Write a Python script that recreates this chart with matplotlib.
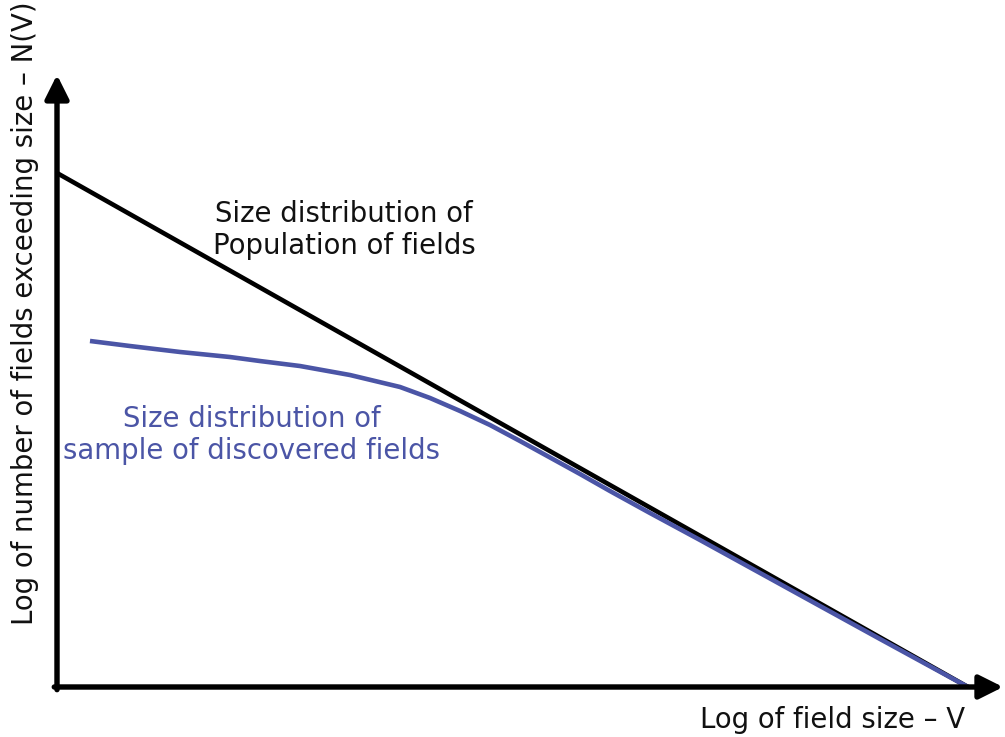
import matplotlib
matplotlib.use("Agg")
import matplotlib.pyplot as plt

# Data (conceptual log units)
population_x = [0.0, 10.0]
population_y = [10.0, 0.0]

discovered_x = [0.362, 0.801, 1.350, 1.899, 2.228, 2.667, 3.216, 3.765, 4.094,
                4.424, 4.753, 5.082, 5.412, 5.741, 6.070, 6.509, 7.058, 7.717,
                8.375, 9.034, 10.0]
discovered_y = [6.732, 6.634, 6.518, 6.420, 6.342, 6.245, 6.070, 5.837, 5.623,
                5.370, 5.097, 4.786, 4.465, 4.144, 3.813, 3.385, 2.860, 2.218,
                1.576, 0.934, 0.0]

x_label = "Log of field size \u2013 V"
y_label = "Log of number of fields exceeding size \u2013 N(V)"
pop_label = "Size distribution of\nPopulation of fields"
disc_label = "Size distribution of\nsample of discovered fields"

BLUE = "#4B55A6"
FS = 19.8

fig = plt.figure(figsize=(10.05, 7.37), dpi=100)
ax = fig.add_axes([0, 0, 1, 1])
ax.set_xlim(-0.6257, 10.406)
ax.set_ylim(-0.9728, 13.366)
ax.axis("off")

# axes with arrows
ax.annotate("", xy=(10.385, 0), xytext=(-0.03, 0),
            arrowprops=dict(arrowstyle="-|>", lw=3.9, color="black",
                            mutation_scale=36, shrinkA=0, shrinkB=0))
ax.annotate("", xy=(0, 11.91), xytext=(0, -0.052),
            arrowprops=dict(arrowstyle="-|>", lw=3.9, color="black",
                            mutation_scale=36, shrinkA=0, shrinkB=0))

ax.plot(population_x, population_y, color="black", lw=3.3, solid_capstyle="butt")
ax.plot(discovered_x, discovered_y, color=BLUE, lw=3.3, solid_capstyle="butt",
        solid_joinstyle="round")

ax.text(3.15, 8.89, pop_label, ha="center", va="center", fontsize=FS,
        color="#111111", linespacing=1.2)
ax.text(2.14, 4.90, disc_label, ha="center", va="center", fontsize=FS,
        color=BLUE, linespacing=1.2)

ax.text(8.51, -0.64, x_label, ha="center", va="center", fontsize=FS, color="#111111")
ax.text(-0.351, 7.27, y_label, ha="center", va="center", fontsize=FS,
        color="#111111", rotation=90)

fig.savefig("out.png", dpi=100)
